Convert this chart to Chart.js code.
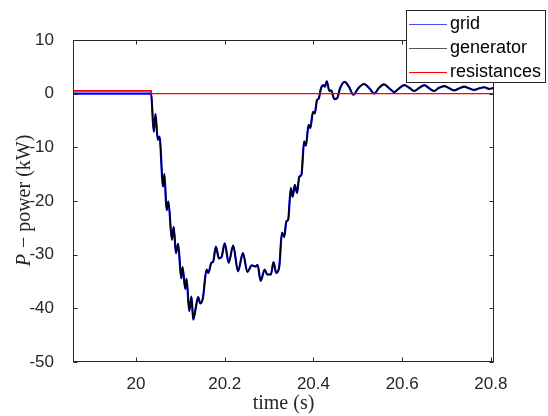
<!DOCTYPE html>
<html>
<head>
<meta charset="utf-8">
<script src="https://cdn.jsdelivr.net/npm/chart.js@4.4.0/dist/chart.umd.min.js"></script>
<style>
  html, body { margin: 0; padding: 0; background: #fff; }
</style>
</head>
<body>
<canvas id="powerChart" width="548" height="416"></canvas>
<script>
// time samples (s)
const time = [19.858, 20.034, 20.040, 20.044, 20.049, 20.053, 20.061, 20.064, 20.069, 20.073,
  20.081, 20.085, 20.090, 20.095, 20.102, 20.105, 20.111, 20.114, 20.120, 20.125,
  20.129, 20.135, 20.140, 20.145, 20.151, 20.159, 20.163, 20.170, 20.174, 20.180,
  20.187, 20.193, 20.200, 20.209, 20.219, 20.230, 20.241, 20.251, 20.261, 20.270,
  20.274, 20.281, 20.290, 20.296, 20.304, 20.310, 20.316, 20.323, 20.329, 20.334,
  20.339, 20.343, 20.349, 20.353, 20.358, 20.363, 20.368, 20.373, 20.379, 20.383,
  20.389, 20.393, 20.399, 20.403, 20.408, 20.412, 20.417, 20.423, 20.426, 20.430,
  20.436, 20.440, 20.447, 20.453, 20.460, 20.470, 20.480, 20.490, 20.501, 20.514,
  20.526, 20.537, 20.547, 20.559, 20.571, 20.582, 20.593, 20.605, 20.616, 20.627,
  20.638, 20.650, 20.661, 20.672, 20.683, 20.695, 20.706, 20.717, 20.729, 20.740,
  20.751, 20.762, 20.774, 20.785, 20.796, 20.807];

// generator power (kW)
const generator = [0.55, 0.55, -7.1, -3.8, -8.6, -8.0, -17.3, -15.0, -21.7, -20.1,
  -27.2, -24.8, -29.7, -28.0, -34.4, -32.3, -36.4, -34.5, -40.5, -37.8,
  -42.1, -39.8, -37.9, -39.1, -38.0, -32.8, -33.4, -31.5, -31.3, -28.5,
  -30.7, -30.4, -27.9, -31.5, -28.3, -33.1, -29.7, -33.2, -32.0, -32.2,
  -31.9, -34.9, -32.8, -33.7, -33.7, -31.4, -33.4, -32.2, -25.9, -26.7,
  -23.8, -23.5, -17.6, -19.2, -17.0, -18.5, -15.5, -15.1, -8.9, -9.7,
  -5.8, -6.4, -3.4, -3.7, -1.2, -0.9, 1.0, 1.6, 1.3, 2.3,
  0.5, 0.6, -1.0, -0.9, 1.0, 2.2, 1.3, -0.2, 1.0, 1.8,
  1.0, 0.0, 1.0, 1.75, 1.0, 0.3, 1.0, 1.6, 1.1, 0.5,
  1.05, 1.6, 1.0, 0.5, 1.1, 1.4, 1.0, 0.6, 1.0, 1.3,
  1.0, 0.7, 1.0, 1.2, 0.9, 1.1];

// grid power (kW)
const grid = [0.0, 0.0, -7.1, -3.8, -8.6, -8.0, -17.3, -15.0, -21.7, -20.1,
  -27.2, -24.8, -29.7, -28.0, -34.4, -32.3, -36.4, -34.5, -40.5, -37.8,
  -42.1, -39.8, -37.9, -39.1, -38.0, -32.8, -33.4, -31.5, -31.3, -28.5,
  -30.7, -30.4, -27.9, -31.5, -28.3, -33.1, -29.7, -33.2, -32.0, -32.2,
  -31.9, -34.9, -32.8, -33.7, -33.7, -31.4, -33.4, -32.2, -25.9, -26.7,
  -23.8, -23.5, -17.6, -19.2, -17.0, -18.5, -15.5, -15.1, -8.9, -9.7,
  -5.8, -6.4, -3.4, -3.7, -1.2, -0.9, 1.0, 1.6, 1.3, 2.3,
  0.5, 0.6, -1.0, -0.9, 1.0, 2.2, 1.3, -0.2, 1.0, 1.8,
  1.0, 0.0, 1.0, 1.75, 1.0, 0.3, 1.0, 1.6, 1.1, 0.5,
  1.05, 1.6, 1.0, 0.5, 1.1, 1.4, 1.0, 0.6, 1.0, 1.3,
  1.0, 0.7, 1.0, 1.2, 0.9, 1.1];

// resistances power (kW)
const resTime = [19.858, 20.034, 20.034, 20.807];
const resistances = [0.55, 0.55, 0.0, 0.0];

const xTicks = [20, 20.2, 20.4, 20.6, 20.8];
const yTicks = [-50, -40, -30, -20, -10, 0, 10];

const toPoints = (xs, ys) => xs.map((x, i) => ({ x: x, y: ys[i] }));

const axisColor = '#262626';
const tickFont = { family: "'Liberation Sans', Arial, sans-serif", size: 17 };

// MATLAB-like box, inward ticks, axis labels and overlay legend
const framePlugin = {
    id: 'frame',
    afterDraw(chart) {
        const ctx = chart.ctx;
        const a = chart.chartArea;
        const sx = chart.scales.x, sy = chart.scales.y;
        const L = Math.round(a.left) + 0.5, R = Math.round(a.right) - 0.5;
        const T = Math.round(a.top) + 0.5, B = Math.round(a.bottom) - 0.5;
        ctx.save();
        ctx.strokeStyle = axisColor;
        ctx.lineWidth = 1;
        ctx.strokeRect(L, T, R - L, B - T);

        ctx.beginPath();
        xTicks.forEach(v => {
            const x = Math.round(sx.getPixelForValue(v)) + 0.5;
            ctx.moveTo(x, B); ctx.lineTo(x, B - 4);
            ctx.moveTo(x, T); ctx.lineTo(x, T + 4);
        });
        yTicks.forEach(v => {
            const y = Math.round(sy.getPixelForValue(v)) + 0.5;
            ctx.moveTo(L, y); ctx.lineTo(L + 4, y);
            ctx.moveTo(R, y); ctx.lineTo(R - 4, y);
        });
        ctx.stroke();

        // axis titles
        ctx.fillStyle = axisColor;
        ctx.textBaseline = 'middle';
        ctx.textAlign = 'center';
        ctx.font = "20px 'Liberation Serif', serif";
        ctx.fillText('time (s)', (a.left + a.right) / 2, 404);

        ctx.save();
        ctx.translate(25, (a.top + a.bottom) / 2);
        ctx.rotate(-Math.PI / 2);
        const italicPart = 'P';
        const plainPart = ' \u2212 power (kW)';
        ctx.font = "italic 20px 'Liberation Serif', serif";
        const w1 = ctx.measureText(italicPart).width;
        ctx.font = "20px 'Liberation Serif', serif";
        const w2 = ctx.measureText(plainPart).width;
        ctx.textAlign = 'left';
        ctx.font = "italic 20px 'Liberation Serif', serif";
        ctx.fillText(italicPart, -(w1 + w2) / 2, 0);
        ctx.font = "20px 'Liberation Serif', serif";
        ctx.fillText(plainPart, -(w1 + w2) / 2 + w1 + 1, 0);
        ctx.restore();

        // legend box
        const box = { x: 406, y: 10, w: 140, h: 73 };
        ctx.fillStyle = '#ffffff';
        ctx.fillRect(box.x, box.y, box.w, box.h);
        ctx.strokeStyle = axisColor;
        ctx.strokeRect(box.x + 0.5, box.y + 0.5, box.w - 1, box.h - 1);
        ctx.font = "18px 'Liberation Sans', Arial, sans-serif";
        ctx.textAlign = 'left';
        ctx.textBaseline = 'middle';
        chart.data.datasets.forEach((ds, i) => {
            const y = box.y + 13.5 + i * 24;
            ctx.strokeStyle = ds.legendColor;
            ctx.lineWidth = 1;
            ctx.beginPath();
            ctx.moveTo(409, Math.round(y) + 0.5);
            ctx.lineTo(447, Math.round(y) + 0.5);
            ctx.stroke();
            ctx.fillStyle = '#000000';
            ctx.fillText(ds.label, 450, y + 1);
        });
        ctx.restore();
    }
};

const ctx = document.getElementById('powerChart').getContext('2d');
new Chart(ctx, {
    type: 'line',
    data: {
        datasets: [{
            label: 'grid',
            data: toPoints(time, grid),
            borderColor: '#0000ff',
            legendColor: '#4d4dff',
            borderWidth: 2.2,
            cubicInterpolationMode: 'monotone',
            pointRadius: 0,
            order: 3
        }, {
            label: 'generator',
            data: toPoints(time, generator),
            borderColor: '#000000',
            legendColor: '#555555',
            borderWidth: 1.4,
            cubicInterpolationMode: 'monotone',
            pointRadius: 0,
            order: 2
        }, {
            label: 'resistances',
            data: toPoints(resTime, resistances),
            borderColor: '#ff0000',
            legendColor: '#ff0000',
            borderWidth: 1.2,
            tension: 0,
            pointRadius: 0,
            order: 1
        }]
    },
    options: {
        responsive: false,
        animation: false,
        devicePixelRatio: 1,
        layout: { padding: { top: 40, right: 54, left: 0, bottom: 0 } },
        plugins: {
            legend: { display: false },
            tooltip: { enabled: false }
        },
        scales: {
            x: {
                type: 'linear',
                min: 19.858,
                max: 20.807,
                afterBuildTicks: scale => { scale.ticks = xTicks.map(v => ({ value: v })); },
                afterFit: scale => { scale.height = 54; },
                grid: { display: false },
                border: { display: false },
                ticks: {
                    color: axisColor,
                    font: tickFont,
                    padding: 4,
                    maxRotation: 0,
                    autoSkip: false,
                    callback: value => String(value)
                }
            },
            y: {
                type: 'linear',
                min: -50,
                max: 10,
                afterBuildTicks: scale => { scale.ticks = yTicks.map(v => ({ value: v })); },
                afterFit: scale => { scale.width = 73; },
                grid: { display: false },
                border: { display: false },
                ticks: {
                    color: axisColor,
                    font: tickFont,
                    padding: 11
                }
            }
        }
    },
    plugins: [framePlugin]
});
</script>
</body>
</html>
